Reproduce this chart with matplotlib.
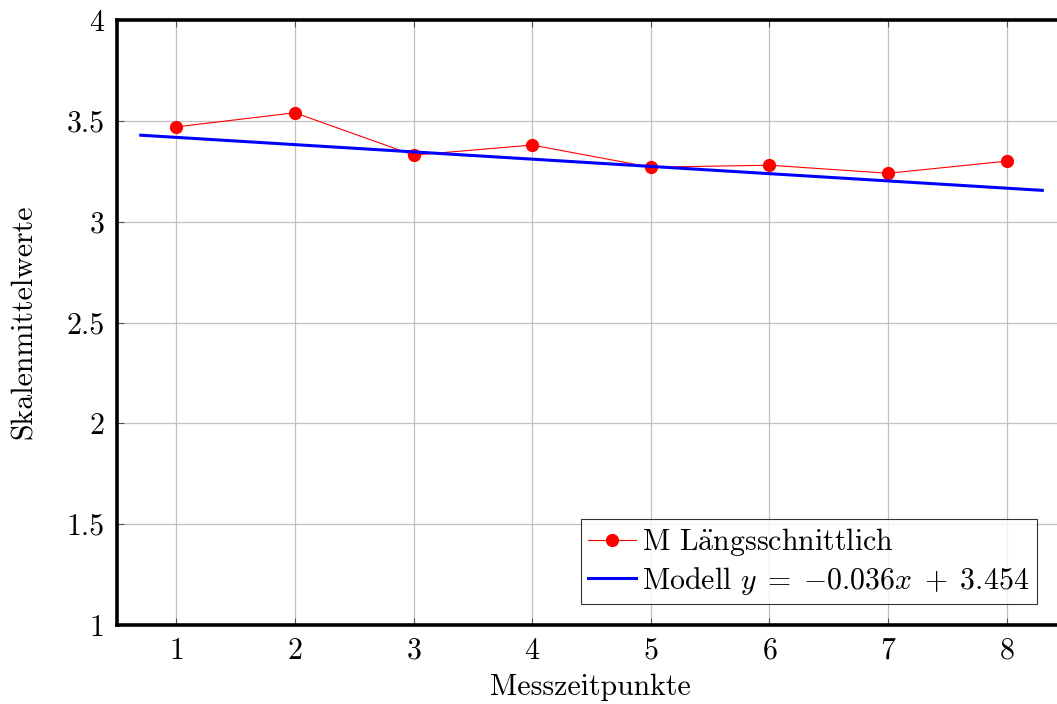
import matplotlib
matplotlib.use("Agg")
import matplotlib.pyplot as plt
import numpy as np

plt.rcParams['font.family'] = 'serif'
plt.rcParams['font.serif'] = ['cmr10']
plt.rcParams['mathtext.fontset'] = 'cm'
plt.rcParams['axes.formatter.use_mathtext'] = True

x_points = [1, 2, 3, 4, 5, 6, 7, 8]
y_points = [3.47, 3.54, 3.33, 3.38, 3.27, 3.28, 3.24, 3.30]
slope = -0.036
intercept = 3.454
model_x = [0.7, 8.3]
xticks = [1, 2, 3, 4, 5, 6, 7, 8]
yticks = [1, 1.5, 2, 2.5, 3, 3.5, 4]
ytick_labels = ["1", "1.5", "2", "2.5", "3", "3.5", "4"]

FS = 21.5

fig = plt.figure(figsize=(10.57, 7.04), dpi=100)
W, H = 1057, 704
left, right, top, bottom = 117, 1066, 20, 625
AW, AH = right - left, bottom - top
ax = fig.add_axes([left / W, 1 - bottom / H, AW / W, AH / H])

ax.grid(True, color='#c0c0c0', linewidth=0.9)
ax.set_axisbelow(True)

ax.plot(x_points, y_points, color='red', linewidth=0.8, marker='o', markersize=8.5,
        label='M L$\\mathrm{\\ddot{a}}$ngsschnittlich', zorder=3)
mx = np.array(model_x)
ax.plot(mx, slope * mx + intercept, color='blue', linewidth=2.2,
        label=r'Modell $y\;=\;{-0.036}x\;+\;3.454$', zorder=4)

ax.set_xlim(0.5, 8.5)
ax.set_ylim(1, 4)
ax.set_xticks(xticks)
ax.set_yticks(yticks)
ax.set_yticklabels(ytick_labels)
ax.tick_params(direction='in', length=5, width=0.8, color='#555555', labelsize=FS,
               top=True, right=True)
ax.tick_params(axis='x', pad=9)
ax.tick_params(axis='y', pad=9)

for s in ['left', 'top', 'bottom', 'right']:
    ax.spines[s].set_linewidth(2.6)
    ax.spines[s].set_color('black')

ax.set_xlabel('Messzeitpunkte', fontsize=FS)
ax.set_ylabel('Skalenmittelwerte', fontsize=FS)
ax.xaxis.set_label_coords((590 - left) / AW, (625 - 674) / AH)
ax.yaxis.set_label_coords((38 - left) / AW, (625 - 322) / AH)

leg = ax.legend(loc='lower left', bbox_to_anchor=((581 - left) / AW, (625 - 604) / AH),
                fontsize=FS, frameon=True, fancybox=False, edgecolor='black',
                handlelength=1.6, handletextpad=0.2, borderpad=0.25, labelspacing=0.22,
                borderaxespad=0)
leg.get_frame().set_linewidth(0.8)

fig.savefig('out.png', dpi=100)
